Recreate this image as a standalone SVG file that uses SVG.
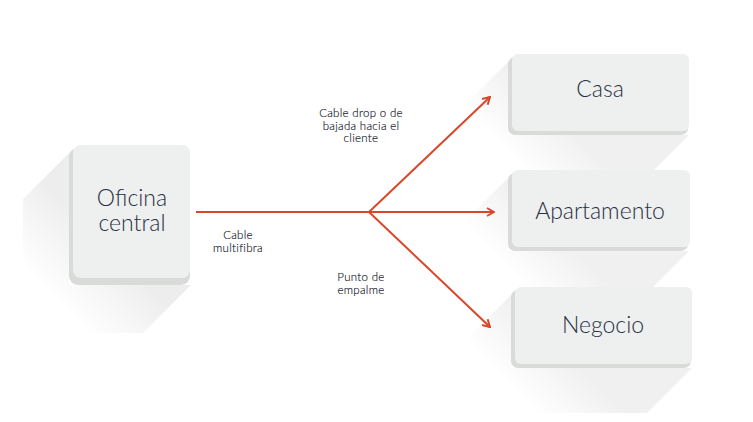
<svg xmlns="http://www.w3.org/2000/svg" width="753" height="422" viewBox="0 0 753 422">
  <style>
    .face { fill: #edf0ee; }
    .base { fill: #d9dbd9; }
    .node-label { font-family: Lato, "Noto Sans", sans-serif; font-weight: 300; font-size: 23px; fill: #2a2e45; text-anchor: middle; }
    .edge-label { font-family: Lato, "Noto Sans", sans-serif; font-weight: 300; font-size: 11.5px; letter-spacing: 0.3px; fill: #151829; stroke: #151829; stroke-width: 0.15px; text-anchor: middle; }
    .conn { stroke: #d9472b; stroke-width: 2; fill: none; }
  </style>
  <defs>
    <linearGradient id="shadowBig" gradientUnits="userSpaceOnUse" x1="35" y1="100" x2="-20" y2="155">
      <stop offset="0" stop-color="#000" stop-opacity="0.07"/>
      <stop offset="1" stop-color="#000" stop-opacity="0"/>
    </linearGradient>
    <linearGradient id="shadowSmall" gradientUnits="userSpaceOnUse" x1="45" y1="60" x2="0" y2="105">
      <stop offset="0" stop-color="#000" stop-opacity="0.06"/>
      <stop offset="1" stop-color="#000" stop-opacity="0"/>
    </linearGradient>
    <marker id="chev" viewBox="0 0 10 10" refX="9" refY="5" markerWidth="10" markerHeight="10" markerUnits="userSpaceOnUse" orient="auto">
      <polyline points="2,1 9,5 2,9" fill="none" stroke="#d9472b" stroke-width="2"/>
    </marker>
  </defs>

  <g id="oficina" transform="translate(73,145)">
    <polygon points="0,4 -50,54 -50,188 70,188 118,140 -4,140" fill="url(#shadowBig)"/>
    <rect class="base" x="-4" y="3" width="121" height="137" rx="9"/>
    <rect class="face" x="0" y="0" width="117" height="133" rx="8"/>
    <text class="node-label" x="59" y="61">Oficina</text>
    <text class="node-label" x="59" y="85.5">central</text>
  </g>

  <g id="casa" transform="translate(512,54)">
    <polygon points="0,4 -45,49 -45,126 132,126 177,81 -4,81" fill="url(#shadowSmall)"/>
    <rect class="base" x="-4" y="3" width="180" height="78" rx="7"/>
    <rect class="face" x="0" y="0" width="177" height="77" rx="6"/>
    <text class="node-label" x="88" y="43">Casa</text>
  </g>

  <g id="apartamento" transform="translate(512,170)">
    <polygon points="0,4 -45,49 -45,126 132,126 177,81 -4,81" fill="url(#shadowSmall)"/>
    <rect class="base" x="-4" y="3" width="180" height="78" rx="7"/>
    <rect class="face" x="0" y="0" width="178" height="77" rx="6"/>
    <text class="node-label" x="88" y="49">Apartamento</text>
  </g>

  <g id="negocio" transform="translate(515,287)">
    <polygon points="0,4 -45,49 -45,126 132,126 177,81 -4,81" fill="url(#shadowSmall)"/>
    <rect class="base" x="-4" y="3" width="180" height="78" rx="7"/>
    <rect class="face" x="0" y="0" width="177" height="77" rx="6"/>
    <text class="node-label" x="88" y="46">Negocio</text>
  </g>

  <g id="connectors">
    <line class="conn" x1="196" y1="212" x2="369" y2="212"/>
    <line class="conn" x1="369" y1="212" x2="494" y2="212" marker-end="url(#chev)"/>
    <line class="conn" x1="369" y1="212" x2="490" y2="97" marker-end="url(#chev)"/>
    <line class="conn" x1="369" y1="212" x2="490" y2="327" marker-end="url(#chev)"/>
  </g>

  <g id="labels">
    <text class="edge-label" x="361" y="117">Cable drop o de</text>
    <text class="edge-label" x="361" y="129.5">bajada hacia el</text>
    <text class="edge-label" x="361" y="142">cliente</text>
    <text class="edge-label" x="238" y="239">Cable</text>
    <text class="edge-label" x="238" y="251.5">multifibra</text>
    <text class="edge-label" x="361" y="281">Punto de</text>
    <text class="edge-label" x="361" y="293.5">empalme</text>
  </g>
</svg>
